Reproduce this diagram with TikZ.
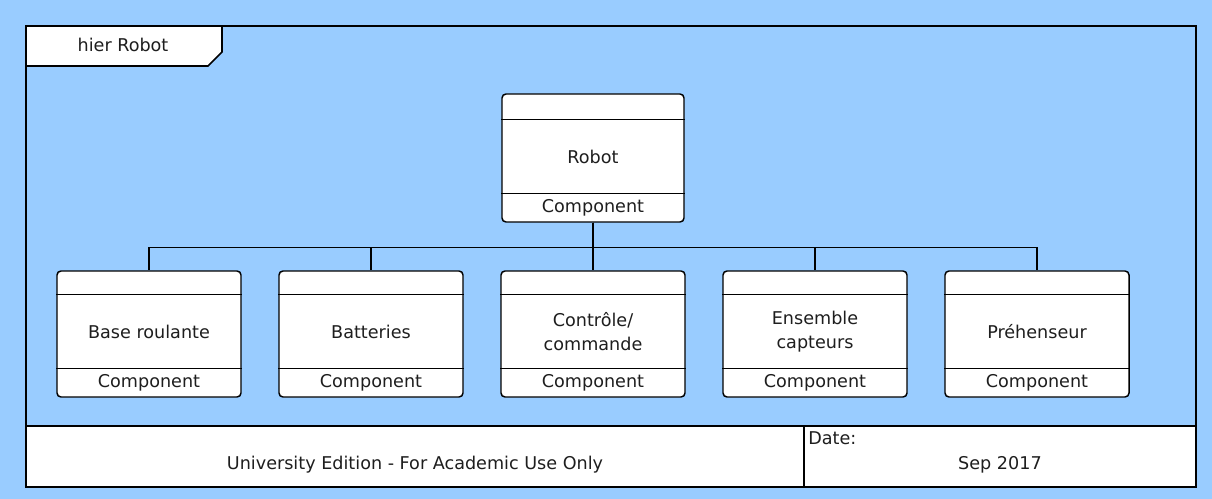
\documentclass[tikz,border=0pt]{standalone}
\usepackage{fontspec}
\setmainfont{DejaVu Sans}
\definecolor{bgblue}{RGB}{153,204,255}
\definecolor{txt}{RGB}{30,30,30}
\tikzset{
  compbox/.style={draw=black, fill=white, rounded corners=3pt, line width=1.1pt, inner sep=0pt},
  lbl/.style={text=txt, inner sep=0pt, align=center, font=\fontsize{13.2}{18}\selectfont},
  conn/.style={draw=black, line width=1.1pt},
}
\newcommand\childbox[3]{%
  \node[compbox, minimum width=138pt, minimum height=94.5pt] (#1) at (#2,334) {};
  \draw[line width=1.1pt] ([yshift=-18pt]#1.north west) -- ([yshift=-18pt]#1.north east);
  \draw[line width=1.1pt] ([yshift=21.75pt]#1.south west) -- ([yshift=21.75pt]#1.south east);
  \node[lbl] (#1-name) at (#2,331.5) {#3};
  \node[lbl] (#1-st) at (#2,383) {Component};
  \draw[conn] (robot.south) -- ++(0,24.5) -| (#1.north);
}
\begin{document}
\begin{tikzpicture}[x=0.75pt,y=-0.75pt]
\useasboundingbox (0,0) rectangle (1212,499);
\fill[bgblue] (0,0) rectangle (1212,499);
% footer
\fill[white] (26,426) rectangle (1196,487);
\draw[line width=1.5pt] (26,426) -- (1196,426);
\draw[line width=1.5pt] (804,426) -- (804,487);
\node[lbl] (edition) at (415,465) {University Edition - For Academic Use Only};
\node[lbl, anchor=west] (date) at (808,438) {Date:};
\node[lbl] (datev) at (1000,465) {Sep 2017};
% tab
\draw[fill=white, line width=1.2pt] (26,26) -- (222,26) -- (222,52) -- (208,66) -- (26,66) -- cycle;
\node[lbl] (title) at (123,45) {hier Robot};
% outer frame
\draw[line width=2.2pt] (26,26) rectangle (1196,487);
% robot
\node[compbox, minimum width=136.5pt, minimum height=96pt] (robot) at (593,158) {};
\draw[line width=1.1pt] ([yshift=-19.5pt]robot.north west) -- ([yshift=-19.5pt]robot.north east);
\draw[line width=1.1pt] ([yshift=21.75pt]robot.south west) -- ([yshift=21.75pt]robot.south east);
\node[lbl] (robot-name) at (593,156.5) {Robot};
\node[lbl] (robot-st) at (593,208) {Component};
% children
\childbox{base}{149}{Base roulante}
\childbox{batt}{371}{Batteries}
\childbox{ctrl}{593}{Contrôle/\\commande}
\childbox{capt}{815}{Ensemble\\capteurs}
\childbox{preh}{1037}{Préhenseur}
\end{tikzpicture}
\end{document}
